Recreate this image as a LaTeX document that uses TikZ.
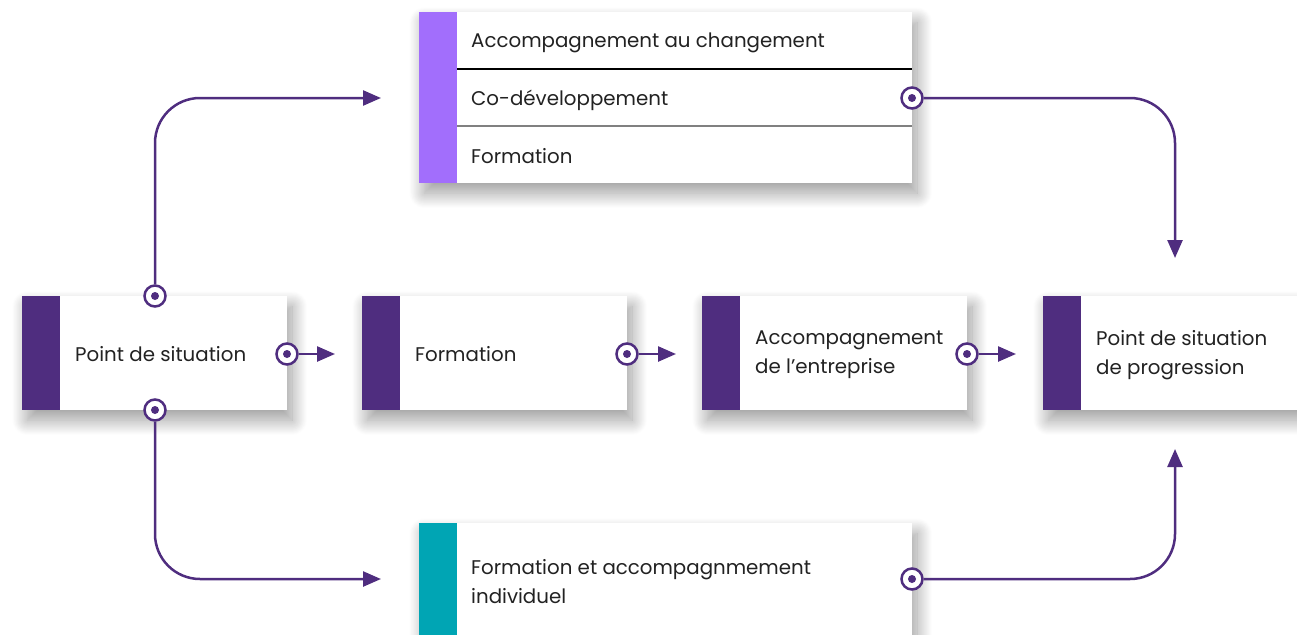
\documentclass[tikz,border=0pt]{standalone}
\usepackage{fontspec}
\setmainfont{Poppins}
\usetikzlibrary{arrows.meta,shadows.blur}
\definecolor{pc}{HTML}{4F2D7F}
\definecolor{lpc}{HTML}{A26EFC}
\definecolor{teal}{HTML}{00A5B4}
\definecolor{txt}{HTML}{222222}
\tikzset{
  box/.style={rectangle, fill=white, inner sep=0pt, anchor=north west,
    blur shadow={shadow xshift=5pt, shadow yshift=-10pt, shadow blur radius=15pt,
      shadow blur steps=30, shadow opacity=40}},
  lbl/.style={anchor=west, inner sep=0pt, align=left, text=txt, font=\fontsize{19.8}{29}\selectfont},
  port/.style={circle, draw=pc, fill=white, line width=2.5pt, minimum size=21pt, inner sep=0pt,
    path picture={\fill[pc] (path picture bounding box.center) circle (4pt);}},
  conn/.style={draw=pc, line width=2.5pt, -{Triangle[length=18pt,width=15pt]}},
  sep/.style={line width=1.3pt}
}
\begin{document}
\begin{tikzpicture}[x=1pt,y=-1pt]
\useasboundingbox (0,0) rectangle (1297,634);
% middle row boxes
\node[box, minimum width=265pt, minimum height=114pt] (A) at (22,296) {};
\fill[pc] (22,296) rectangle (60,410);
\node[lbl] (tA) at (75,354) {Point de situation};
\node[box, minimum width=265pt, minimum height=114pt] (B) at (362,296) {};
\fill[pc] (362,296) rectangle (400,410);
\node[lbl] (tB) at (415,354) {Formation};
\node[box, minimum width=265pt, minimum height=114pt] (C) at (702,296) {};
\fill[pc] (702,296) rectangle (740,410);
\node[lbl] (tC) at (755,355) {Accompagnement\\de l’entreprise};
\node[box, minimum width=265pt, minimum height=114pt] (D) at (1043,296) {};
\fill[pc] (1043,296) rectangle (1081,410);
\node[lbl] (tD) at (1096,355) {Point de situation\\de progression};
% top box
\node[box, minimum width=493pt, minimum height=171pt] (T) at (419,12) {};
\fill[lpc] (419,12) rectangle (457,183);
\draw[sep, black] (457,69) -- (912,69);
\draw[sep, gray] (457,126) -- (912,126);
\node[lbl] (t1) at (471,43) {Accompagnement au changement};
\node[lbl] (t2) at (471,100) {Co-développement};
\node[lbl] (t3) at (471,156) {Formation};
% bottom box
\node[box, minimum width=493pt, minimum height=140pt] (L) at (419,523) {};
\fill[teal] (419,523) rectangle (457,663);
\node[lbl] (tL) at (471,582) {Formation et accompagnmement\\individuel};
% ports
\node[port] (pAt) at (155,296) {};
\node[port] (pAb) at (155,410) {};
\node[port] (pAr) at (287,354) {};
\node[port] (pBr) at (627,354) {};
\node[port] (pCr) at (967,354) {};
\node[port] (pTr) at (912,98) {};
\node[port] (pLr) at (912,579) {};
% arrow ends
\coordinate (eA) at (335,354);
\coordinate (eB) at (676,354);
\coordinate (eC) at (1016,354);
\coordinate (eT) at (381,98);
\coordinate (eL) at (381,579);
\coordinate (eDt) at (1175,258);
\coordinate (eDb) at (1175,449);
% connectors
\draw[conn] (pAr) -- (eA);
\draw[conn] (pBr) -- (eB);
\draw[conn] (pCr) -- (eC);
\draw[conn, rounded corners=45pt] (pAt) |- (eT);
\draw[conn, rounded corners=45pt] (pAb) |- (eL);
\draw[conn, rounded corners=45pt] (pTr) -| (eDt);
\draw[conn, rounded corners=45pt] (pLr) -| (eDb);
\end{tikzpicture}
\end{document}
